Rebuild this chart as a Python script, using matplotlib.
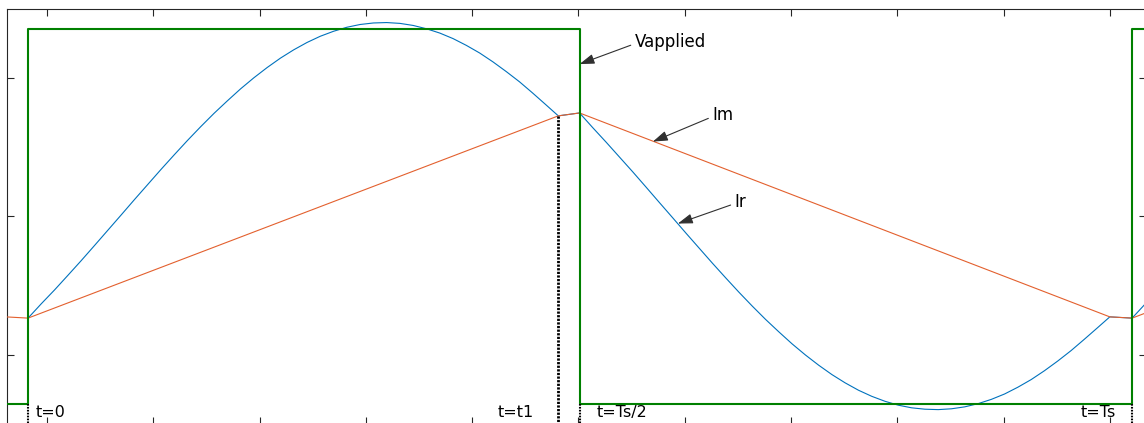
import numpy as np
import matplotlib
matplotlib.use('Agg')
import matplotlib.pyplot as plt

# switching instants (us)
T1 = 4.99
T_HALF = 5.19
TS = 10.39

# applied bridge voltage, square wave (normalised)
v_t = [-0.45, 0.00, T_HALF, TS, 10.70]
v_val = [-1.354, 1.354, -1.354, 1.354, 1.354]

# magnetising current Im, piecewise linear
im_t = [-0.45, -0.21, 0.00, 4.99, 5.19, 10.18, 10.39, 10.64]
im_val = [-0.655, -0.726, -0.735, 0.726, 0.747, -0.726, -0.735, -0.662]

# resonant current Ir, sampled over one half period (time from start of half)
ir_dt = [0.000, 0.125, 0.250, 0.375, 0.500, 0.625, 0.750, 0.875, 1.000, 1.125,
         1.250, 1.375, 1.500, 1.625, 1.750, 1.875, 2.000, 2.125, 2.250, 2.375,
         2.500, 2.625, 2.750, 2.875, 3.000, 3.125, 3.250, 3.375, 3.500, 3.625,
         3.750, 3.875, 4.000, 4.125, 4.250, 4.375, 4.500, 4.625, 4.750, 4.875,
         4.990]
ir_rise = [-0.735, -0.631, -0.531, -0.426, -0.320, -0.211, -0.101, 0.009, 0.120, 0.229,
           0.338, 0.444, 0.548, 0.648, 0.744, 0.834, 0.921, 1.001, 1.075, 1.143,
           1.203, 1.256, 1.301, 1.337, 1.366, 1.386, 1.397, 1.400, 1.394, 1.379,
           1.355, 1.324, 1.284, 1.235, 1.180, 1.116, 1.046, 0.972, 0.890, 0.805,
           0.726]
ir_fall = [0.747, 0.640, 0.536, 0.429, 0.322, 0.212, 0.101, -0.009, -0.120, -0.229,
           -0.338, -0.444, -0.548, -0.648, -0.744, -0.834, -0.921, -1.001, -1.075, -1.143,
           -1.203, -1.256, -1.300, -1.336, -1.364, -1.383, -1.393, -1.396, -1.390, -1.376,
           -1.353, -1.322, -1.283, -1.234, -1.179, -1.115, -1.045, -0.970, -0.888, -0.804,
           -0.726]
ir_next = [-0.735, -0.631, -0.531]

ir_t = ([dt for dt in ir_dt] + [T_HALF + dt for dt in ir_dt]
        + [TS + dt for dt in ir_dt[:3]])
ir_val = ir_rise + ir_fall + ir_next

fig = plt.figure(figsize=(11.44, 4.23), dpi=100)
ax = fig.add_axes([0.0064, -0.0024, 0.9953, 0.9818])

ax.plot(ir_t, ir_val, color='#0072BD', linewidth=0.8, zorder=2)
ax.plot(im_t, im_val, color='#E3602E', linewidth=0.8, zorder=3)
ax.plot(v_t, v_val, color='#008000', linewidth=1.5, drawstyle='steps-post', zorder=4)

# dotted markers for the switching instants
lo = -1.5
ax.plot([0, 0], [-1.354, lo], color='black', linewidth=1.5, linestyle=(0, (0.8, 0.6)), zorder=5)
ax.plot([T1, T1], [0.726, lo], color='black', linewidth=2.0, linestyle=(0, (0.8, 0.5)), zorder=5)
ax.plot([T_HALF, T_HALF], [-1.354, lo], color='black', linewidth=1.5, linestyle=(0, (0.8, 0.6)), zorder=5)
ax.plot([TS, TS], [-1.354, lo], color='black', linewidth=1.5, linestyle=(0, (0.8, 0.6)), zorder=5)

tfont = dict(fontsize=11.5, color='black', va='baseline', ha='left',
             family='DejaVu Sans', zorder=6)
ax.text(0.07, -1.452, 't=0', **tfont)
ax.text(4.42, -1.452, 't=t1', **tfont)
ax.text(5.35, -1.452, 't=Ts/2', **tfont)
ax.text(9.91, -1.452, 't=Ts', **tfont)

arrow = dict(arrowstyle='-|>,head_length=0.9,head_width=0.3', color='#303030',
             linewidth=0.8, mutation_scale=10, shrinkA=1, shrinkB=0, relpos=(0, 0.4))
ax.annotate('Vapplied', xy=(T_HALF, 1.10), xytext=(5.71, 1.224), fontsize=12,
            va='baseline', arrowprops=arrow)
ax.annotate('Im', xy=(5.88, 0.54), xytext=(6.44, 0.697), fontsize=12,
            va='baseline', arrowprops=arrow)
ax.annotate('Ir', xy=(6.115, -0.052), xytext=(6.65, 0.069), fontsize=12,
            va='baseline', arrowprops=arrow)

ax.set_xlim(-0.195, 10.52)
ax.set_ylim(-1.5, 1.5)
ax.set_xticks(np.arange(0.18, 10.5, 1.0))
ax.set_yticks([-1, 0, 1])
ax.tick_params(direction='in', length=5, width=0.8, color='#262626',
               top=True, right=True, labelbottom=False, labelleft=False)
for s in ax.spines.values():
    s.set_color('#262626')
    s.set_linewidth(0.8)

fig.savefig('out.png', dpi=100)
